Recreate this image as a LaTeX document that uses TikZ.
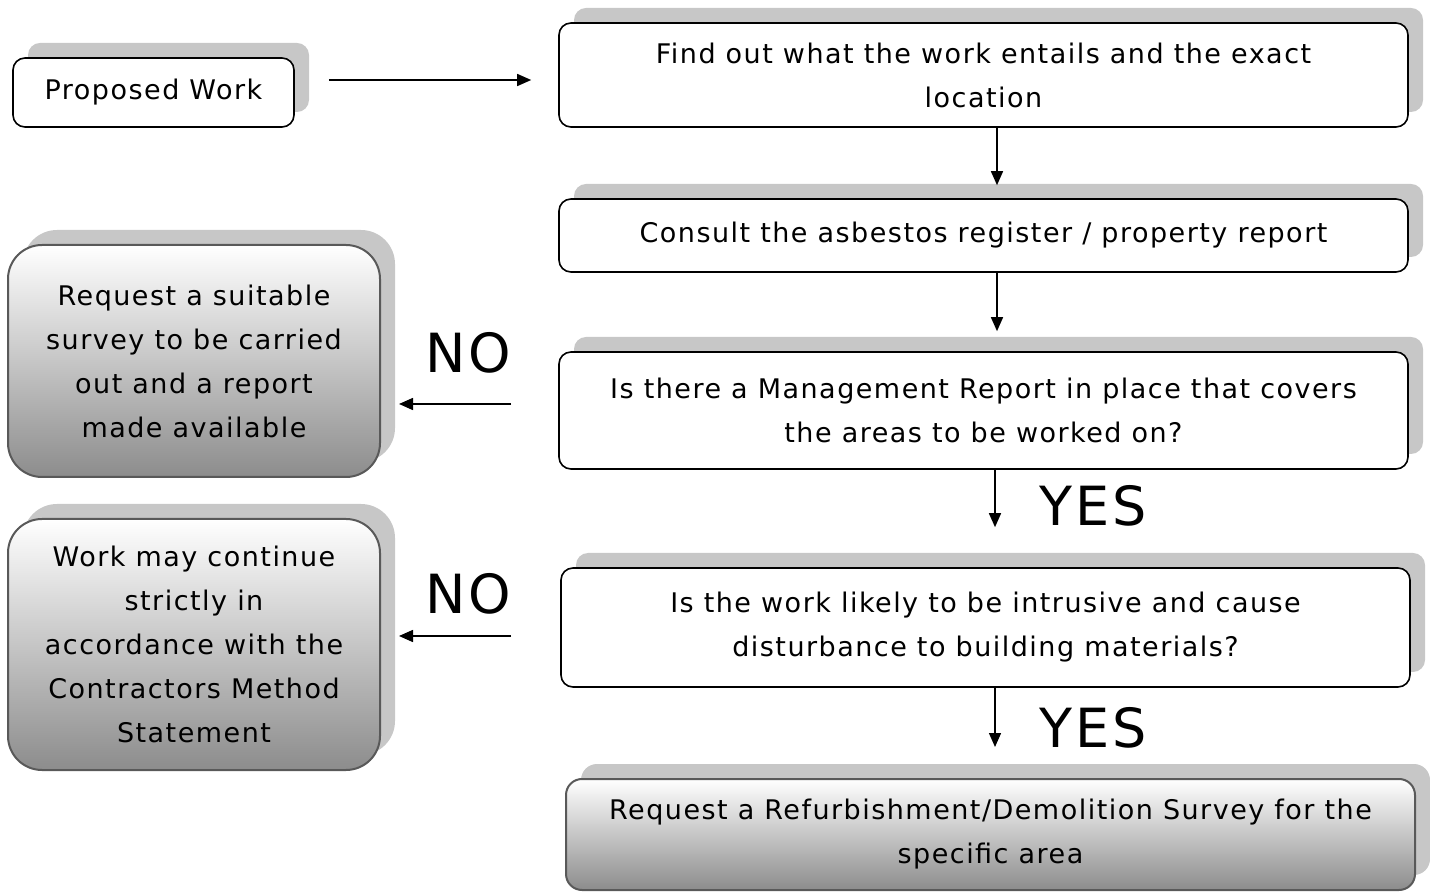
\documentclass[tikz,border=0pt]{standalone}
\usepackage{fontspec}
\setmainfont[LetterSpace=5.5]{DejaVu Sans}
\usetikzlibrary{arrows.meta,shadows}

\begin{document}
\begin{tikzpicture}[x=0.5pt,y=-0.5pt,
        every node/.style={font=\fontsize{13.5}{22}\selectfont,align=center,inner sep=0pt},
        box/.style={draw=black,line width=0.8pt,rounded corners=6pt,fill=white,
            general shadow={shadow xshift=7.5pt,shadow yshift=7.5pt,fill=black!22}},
        shadebox/.style={draw=black!65,line width=1pt,rounded corners=17pt,
            top color=white,bottom color=black!45,
            general shadow={shadow xshift=7.5pt,shadow yshift=7.5pt,fill=black!22}},
        answer/.style={font=\fontsize{27}{30}\selectfont},
        arr/.style={-{Triangle[length=7pt,width=6pt]},line width=0.75pt}]
    \useasboundingbox (0,0) rectangle (1430,892);
    \node[box,minimum width=140.5pt,minimum height=34.5pt] (proposed) at (153.5,92.5) {Proposed Work};
    \node[box,minimum width=424.5pt,minimum height=52pt] (find) at (983.5,75)
        {Find out what the work entails and the exact\\location};
    \node[box,minimum width=424.5pt,minimum height=36.5pt] (consult) at (983.5,235.5)
        {Consult the asbestos register / property report};
    \node[box,minimum width=424.5pt,minimum height=58.5pt] (mgmt) at (983.5,410.5)
        {Is there a Management Report in place that covers\\the areas to be worked on?};
    \node[box,minimum width=424.5pt,minimum height=59.5pt] (intrusive) at (985.5,627.5)
        {Is the work likely to be intrusive and cause\\disturbance to building materials?};
    \node[shadebox,rounded corners=8pt,minimum width=424.5pt,minimum height=55.5pt] (refurb) at (990.5,834.5)
        {Request a Refurbishment/Demolition Survey for the\\specific area};
    \node[shadebox,minimum width=186pt,minimum height=116pt] (survey) at (194,361)
        {Request a suitable\\survey to be carried\\out and a report\\made available};
    \node[shadebox,minimum width=186pt,minimum height=125.5pt] (continue) at (194,644.5)
        {Work may continue\\strictly in\\accordance with the\\Contractors Method\\Statement};
    \node[answer] (no1) at (468,353) {NO};
    \node[answer] (no2) at (468,594) {NO};
    \node[answer] (yes1) at (1093,506) {YES};
    \node[answer] (yes2) at (1093,728) {YES};
    \coordinate (nostart1) at ([xshift=-23.5pt,yshift=3.25pt]mgmt.west);
    \coordinate (nostart2) at ([xshift=-24.5pt,yshift=-4.25pt]intrusive.west);
    \draw[arr] ([xshift=17pt,yshift=6.25pt]proposed.east) -- ([xshift=-13.5pt,yshift=-2.5pt]find.west);
    \draw[arr] ([xshift=6.75pt]find.south) -- ([xshift=6.75pt,yshift=6.5pt]consult.north);
    \draw[arr] ([xshift=6.75pt]consult.south) -- ([xshift=6.75pt,yshift=10pt]mgmt.north);
    \draw[arr] ([xshift=5.75pt]mgmt.south) -- ([xshift=4.75pt,yshift=20pt]intrusive.north);
    \draw[arr] ([xshift=4.75pt]intrusive.south) -- ([xshift=2.25pt,yshift=15.5pt]refurb.north);
    \draw[arr] (nostart1) -- ([xshift=9pt]survey.east |- nostart1);
    \draw[arr] (nostart2) -- ([xshift=9pt]continue.east |- nostart2);
\end{tikzpicture}
\end{document}
